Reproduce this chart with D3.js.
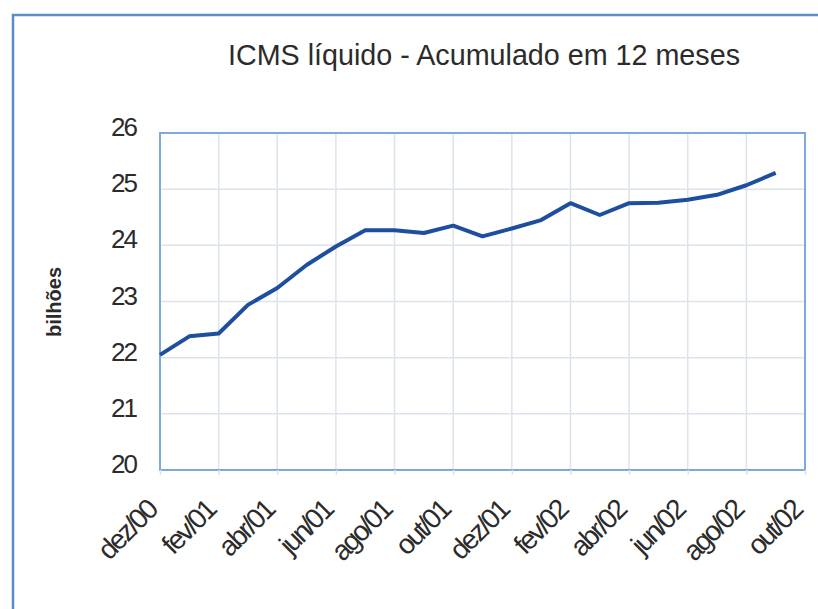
<!DOCTYPE html>
<html>
<head>
<meta charset="utf-8">
<script src="https://cdn.jsdelivr.net/npm/d3@7"></script>
<style>
  body { margin: 0; background: #fff; }
  text { font-family: "Liberation Sans", Arial, sans-serif; fill: #2b2b2b; }
</style>
</head>
<body>
<svg id="chart"></svg>
<script>
var months = ["dez/00", "jan/01", "fev/01", "mar/01", "abr/01", "mai/01", "jun/01", "jul/01",
    "ago/01", "set/01", "out/01", "nov/01", "dez/01", "jan/02", "fev/02", "mar/02", "abr/02",
    "mai/02", "jun/02", "jul/02", "ago/02", "set/02", "out/02"];
var icms = [22.05, 22.38, 22.43, 22.94, 23.24, 23.65, 23.98, 24.27, 24.27, 24.22, 24.35, 24.16,
    24.30, 24.45, 24.75, 24.54, 24.75, 24.76, 24.81, 24.90, 25.07, 25.29, null];
var yTicks = [20, 21, 22, 23, 24, 25, 26];
var xTickLabels = months.filter(function (d, i) { return i % 2 === 0; });

var width = 818, height = 609;
var margin = { top: 133, right: 13, bottom: 139, left: 160 };
var plotWidth = width - margin.left - margin.right,
    plotHeight = height - margin.top - margin.bottom;

var svg = d3.select("#chart").attr("width", width).attr("height", height);

// outer frame (only top and left show in the picture)
svg.append("path")
    .attr("d", "M13," + height + "V15H" + width)
    .attr("fill", "none")
    .attr("stroke", "#5d8cc6")
    .attr("stroke-width", 2.5);

svg.append("text")
    .attr("x", 228)
    .attr("y", 65)
    .attr("textLength", 512)
    .attr("lengthAdjust", "spacingAndGlyphs")
    .style("font-size", "30px")
    .text("ICMS líquido - Acumulado em 12 meses");

var g = svg.append("g")
    .attr("transform", "translate(" + margin.left + "," + margin.top + ")");

var x = d3.scalePoint().domain(months).range([0, plotWidth]);
var y = d3.scaleLinear().domain([20, 26]).range([plotHeight, 0]);

// grid
g.selectAll(".hgrid").data(yTicks).enter().append("line")
    .attr("class", "hgrid")
    .attr("x1", 0).attr("x2", plotWidth)
    .attr("y1", function (d) { return y(d); })
    .attr("y2", function (d) { return y(d); })
    .attr("stroke", "#dde3ec").attr("stroke-width", 1.5);

g.selectAll(".vgrid").data(xTickLabels).enter().append("line")
    .attr("class", "vgrid")
    .attr("x1", function (d) { return x(d); })
    .attr("x2", function (d) { return x(d); })
    .attr("y1", 0).attr("y2", plotHeight)
    .attr("stroke", "#dde3ec").attr("stroke-width", 1.5);

g.append("rect")
    .attr("width", plotWidth).attr("height", plotHeight)
    .attr("fill", "none")
    .attr("stroke", "#7eaadb").attr("stroke-width", 2);

// axes
var yAxis = g.append("g")
    .call(d3.axisLeft(y).tickValues(yTicks).tickFormat(d3.format("d")).tickSize(0).tickPadding(24));
yAxis.select(".domain").remove();
yAxis.selectAll("text")
    .style("font-size", "26px")
    .style("letter-spacing", "-2px")
    .attr("dy", "0.1em");

var xAxis = g.append("g")
    .attr("transform", "translate(0," + plotHeight + ")")
    .call(d3.axisBottom(x).tickValues(xTickLabels).tickSize(5).tickPadding(0));
xAxis.select(".domain").remove();
xAxis.selectAll("line").attr("stroke", "#dde3ec").attr("stroke-width", 1.5);
xAxis.selectAll("text")
    .style("font-size", "28px")
    .style("letter-spacing", "-2.4px")
    .attr("text-anchor", "end")
    .attr("y", 0)
    .attr("dy", null)
    .attr("transform", "translate(-2,42) rotate(-45)");

svg.append("text")
    .attr("transform", "translate(61,302) rotate(-90)")
    .attr("text-anchor", "middle")
    .style("font-size", "20px")
    .style("font-weight", "bold")
    .text("bilhões");

// series
var line = d3.line()
    .defined(function (d) { return d != null; })
    .x(function (d, i) { return x(months[i]); })
    .y(function (d) { return y(d); });

g.append("path")
    .datum(icms)
    .attr("fill", "none")
    .attr("stroke", "#1e4f9e")
    .attr("stroke-width", 4)
    .attr("stroke-linejoin", "round")
    .attr("d", line);
</script>
</body>
</html>
